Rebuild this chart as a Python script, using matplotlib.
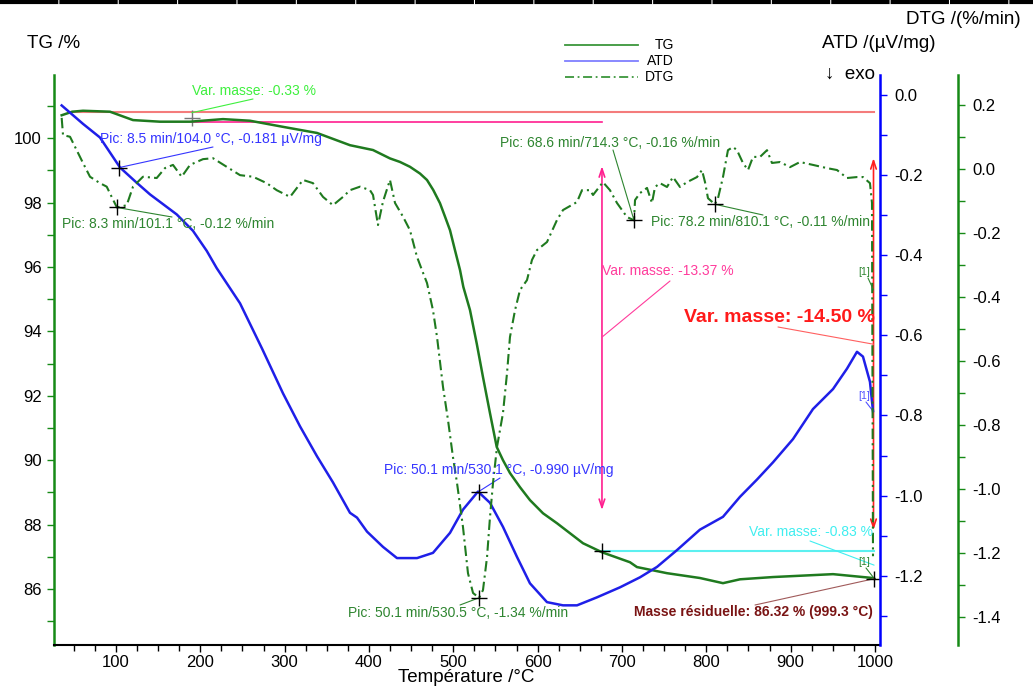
import matplotlib
matplotlib.use("Agg")
import matplotlib.pyplot as plt
from matplotlib.lines import Line2D
from matplotlib.ticker import MultipleLocator, FormatStrFormatter

# TG /% against temperature
tg_temp = [35.6, 48.0, 60.9, 92.9, 120.2, 152.2, 187.8, 226.9, 258.9, 298.1, 338.4, 377.5,
           404.8, 424.9, 436.8, 448.6, 460.5, 468.8, 476.2, 484.2, 490.2, 496.1, 502.0,
           508.0, 511.9, 519.8, 527.8, 535.2, 543.5, 551.5, 558.9, 567.2, 579.1, 590.9,
           606.4, 623.0, 638.4, 653.8, 676.3, 709.5, 717.8, 753.4, 792.5, 819.8, 840.0,
           879.1, 950.3, 997.7, 999.3]
tg_mass = [100.71, 100.82, 100.85, 100.82, 100.56, 100.51, 100.51, 100.59, 100.54, 100.35,
           100.16, 99.78, 99.63, 99.37, 99.26, 99.11, 98.90, 98.70, 98.39, 97.98, 97.56,
           97.14, 96.52, 95.90, 95.38, 94.66, 93.62, 92.58, 91.46, 90.41, 90.00, 89.60,
           89.16, 88.76, 88.35, 88.04, 87.73, 87.42, 87.14, 86.83, 86.68, 86.49, 86.34,
           86.18, 86.30, 86.37, 86.46, 86.34, 86.32]

# ATD /(uV/mg)
atd_temp = [35.6, 60.9, 81.0, 104.8, 124.6, 140.3, 172.0, 191.3, 207.6, 219.4, 247.1, 273.2,
            298.1, 318.2, 338.4, 357.3, 377.5, 385.8, 397.7, 416.6, 433.2, 457.0, 475.9,
            496.1, 511.5, 529.3, 543.5, 558.9, 575.5, 590.9, 611.1, 630.1, 646.7, 670.4,
            697.7, 721.4, 741.6, 765.3, 792.5, 819.8, 840.0, 860.1, 879.1, 902.8, 926.5,
            950.3, 966.9, 978.7, 985.8, 994.1, 997.7]
atd_signal = [-0.026, -0.072, -0.106, -0.181, -0.219, -0.248, -0.298, -0.339, -0.389, -0.432,
              -0.520, -0.633, -0.745, -0.827, -0.902, -0.967, -1.043, -1.055, -1.090, -1.128,
              -1.156, -1.156, -1.143, -1.093, -1.035, -0.990, -1.018, -1.078, -1.153, -1.219,
              -1.266, -1.274, -1.274, -1.254, -1.229, -1.204, -1.178, -1.136, -1.085, -1.053,
              -1.003, -0.960, -0.917, -0.859, -0.784, -0.734, -0.683, -0.641, -0.653, -0.716,
              -0.789]

# DTG /(%/min)
dtg_temp = [35.6, 37.2, 45.5, 53.4, 60.9, 69.2, 81.0, 89.0, 94.9, 101.1, 112.7, 120.2, 132.0,
            148.3, 158.1, 167.6, 177.9, 187.8, 203.2, 215.0, 231.3, 247.1, 262.5, 278.7,
            290.6, 306.4, 321.8, 333.6, 345.5, 357.3, 369.2, 377.5, 389.4, 401.2, 404.8,
            410.7, 416.6, 424.9, 430.9, 440.4, 448.6, 456.9, 462.9, 468.8, 475.9, 480.7,
            487.8, 493.7, 499.6, 504.4, 511.5, 517.4, 523.4, 530.5, 535.2, 540.0, 543.5,
            547.1, 551.8, 558.9, 563.7, 567.2, 573.2, 579.1, 587.4, 593.3, 599.3, 611.1,
            623.0, 630.1, 646.7, 652.6, 662.1, 665.7, 677.5, 685.8, 694.1, 706.0, 714.3,
            715.5, 721.4, 729.7, 735.6, 739.2, 745.1, 753.4, 760.5, 768.8, 777.1, 789.0,
            794.9, 798.5, 802.0, 810.1, 813.9, 819.8, 825.7, 831.7, 836.4, 843.5, 849.5,
            855.4, 863.7, 872.0, 877.9, 887.4, 899.3, 911.1, 926.5, 943.1, 955.0, 966.9,
            978.7, 985.8, 994.1, 996.5, 997.7]
dtg_rate = [0.16, 0.106, 0.101, 0.059, 0.019, -0.024, -0.044, -0.055, -0.087, -0.12, -0.113,
            -0.055, -0.024, -0.028, 0.003, 0.013, -0.024, 0.013, 0.031, 0.034, 0.007, -0.019,
            -0.024, -0.044, -0.066, -0.087, -0.034, -0.044, -0.087, -0.113, -0.087, -0.066,
            -0.055, -0.066, -0.081, -0.175, -0.102, -0.034, -0.106, -0.149, -0.191, -0.274,
            -0.316, -0.356, -0.441, -0.525, -0.681, -0.784, -0.900, -0.981, -1.119, -1.263,
            -1.325, -1.34, -1.316, -1.213, -1.088, -0.981, -0.869, -0.763, -0.638, -0.525,
            -0.441, -0.378, -0.347, -0.284, -0.253, -0.228, -0.159, -0.128, -0.103, -0.066,
            -0.066, -0.081, -0.041, -0.066, -0.106, -0.150, -0.16, -0.097, -0.075, -0.059,
            -0.106, -0.056, -0.044, -0.056, -0.025, -0.056, -0.041, -0.025, -0.003, -0.041,
            -0.091, -0.11, -0.091, -0.025, 0.059, 0.069, 0.059, 0.019, -0.003, 0.038, 0.038,
            0.059, 0.019, 0.022, 0.006, 0.022, 0.013, 0.003, -0.003, -0.028, -0.025, -0.025,
            -0.044, -0.106, -1.21]

# peaks and mass steps given in the annotations
atd_peak_temp = [104.0, 530.1]
atd_peak_val = [-0.181, -0.990]
dtg_peak_temp = [101.1, 530.5, 714.3, 810.1]
dtg_peak_val = [-0.12, -1.34, -0.16, -0.11]
mass_ref = 100.81
step1_temp, step1_mass = 190.0, 100.50
step2_temp, step2_mass = 676.3, 87.17
resid_temp, resid_mass = 999.3, 86.32

W, H = 1033, 688


def fp(x, y):
    return (x / W, 1 - y / H)


plt.rcParams['font.family'] = ['Liberation Sans', 'DejaVu Sans']
plt.rcParams['axes.unicode_minus'] = False

GREEN = '#1f7a1f'
GREEN_AX = '#168a16'
BLUE = '#1f1fe8'
PINK = '#ff1f8f'

fig = plt.figure(figsize=(W / 100, H / 100), dpi=100)
ax = fig.add_axes([54 / W, 1 - 645 / H, 826 / W, 570 / H])
ax_atd = ax.twinx()
ax_dtg = ax.twinx()

ax.plot(tg_temp, tg_mass, color=GREEN, lw=1.8, zorder=3, solid_joinstyle='round')
ax_atd.plot(atd_temp, atd_signal, color=BLUE, lw=1.8, solid_joinstyle='round')
ax_dtg.plot(dtg_temp, dtg_rate, color=GREEN, lw=1.5, linestyle=(0, (5, 2, 1, 2)))

ax.set_xlim(26.5, 1006)
ax.set_ylim(84.26, 101.96)
ax_atd.set_ylim(-1.373, 0.05)
ax_dtg.set_ylim(-1.4875, 0.294)

# mass change construction
ax.plot([49, 998.5], [mass_ref, mass_ref], color='#f47c7c', lw=1.5)
ax.plot([step1_temp, step2_temp], [step1_mass, step1_mass], color=PINK, lw=1.2)
ax.plot([step2_temp, 999], [step2_mass, step2_mass], color='#5cf0f0', lw=1.5)
ax.annotate('', xy=(step2_temp, 88.45), xytext=(step2_temp, 99.13),
            arrowprops=dict(arrowstyle='<->,head_length=0.6,head_width=0.2', color=PINK,
                            lw=1.2, shrinkA=0, shrinkB=0))
ax.annotate('', xy=(998.3, 87.83), xytext=(998.3, 99.38),
            arrowprops=dict(arrowstyle='<->,head_length=0.6,head_width=0.2', color='#ff2020',
                            lw=1.2, shrinkA=0, shrinkB=0))

mk = dict(marker='+', color='black', ms=11, mew=1, ls='none', zorder=5)
ax.plot([step1_temp], [step1_mass + 0.12], marker='+', color='#777777', ms=11, mew=1, ls='none')
ax.plot([step2_temp, resid_temp], [step2_mass, resid_mass], **mk)
ax_atd.plot(atd_peak_temp, atd_peak_val, **mk)
ax_dtg.plot(dtg_peak_temp, dtg_peak_val, **mk)

# spines
for s in ['top', 'right']:
    ax.spines[s].set_visible(False)
ax.spines['left'].set_color(GREEN_AX)
ax.spines['left'].set_linewidth(1.8)
ax.spines['bottom'].set_linewidth(1.5)
for a, col in [(ax_atd, '#0000ff'), (ax_dtg, GREEN_AX)]:
    for s in ['top', 'left', 'bottom']:
        a.spines[s].set_visible(False)
    a.spines['right'].set_color(col)
    a.spines['right'].set_linewidth(1.8)
ax_dtg.spines['right'].set_position(('axes', 1 + 78 / 826))

ax.xaxis.set_minor_locator(MultipleLocator(25))
ax.set_xticks(range(100, 1001, 100))
ax.yaxis.set_minor_locator(MultipleLocator(1))
ax.set_yticks(range(86, 101, 2))
for a in [ax_atd, ax_dtg]:
    a.yaxis.set_minor_locator(MultipleLocator(0.1))
    a.yaxis.set_major_formatter(FormatStrFormatter('%.1f'))
ax_atd.set_yticks([0.0, -0.2, -0.4, -0.6, -0.8, -1.0, -1.2])
ax_dtg.set_yticks([0.2, 0.0, -0.2, -0.4, -0.6, -0.8, -1.0, -1.2, -1.4])

ax.tick_params(axis='x', which='both', direction='out', length=5, width=1, labelsize=12, pad=2)
ax.tick_params(axis='x', which='minor', length=4)
ax.tick_params(axis='y', which='both', direction='out', length=5, width=1, color=GREEN_AX,
               labelsize=12, pad=4)
ax_atd.tick_params(axis='y', which='both', direction='out', length=5, width=1, color='#0000ff',
                   labelsize=12, pad=5)
ax_dtg.tick_params(axis='y', which='both', direction='out', length=5, width=1, color=GREEN_AX,
                   labelsize=12, pad=5)

# axis titles
fig.text(*fp(27, 43), 'TG /%', fontsize=13.5, ha='left', va='center')
fig.text(*fp(1021, 20), 'DTG /(%/min)', fontsize=13.5, ha='right', va='center')
fig.text(*fp(822, 44), 'ATD /(µV/mg)', fontsize=13.5, ha='left', va='center')
fig.text(*fp(825, 74), '↓  exo', fontsize=13.5, ha='left', va='center')
fig.text(*fp(466, 677), 'Température /°C', fontsize=13.5, ha='center', va='center')

# legend
legend_rows = [('TG', '#3c963c', '-', 45), ('ATD', '#7f7fff', '-', 61),
               ('DTG', '#3c963c', (0, (5, 2, 1, 2)), 77)]
for name, col, ls, yy in legend_rows:
    x0, y0 = fp(565, yy)
    x1, _ = fp(638, yy)
    fig.add_artist(Line2D([x0, x1], [y0, y0], color=col, lw=1.3, linestyle=ls))
    fig.text(*fp(674, yy), name, fontsize=10, ha='right', va='center')

# top border
fig.add_artist(Line2D([0, 1], [1 - 1.5 / H] * 2, color='black', lw=3, linestyle=(0, (14, 0.25))))


def note(axis, text, tx, ty, lx, ly, xy, color, ha='left', size=10, weight='normal',
         lcolor=None):
    fig.text(*fp(tx, ty), text, color=color, fontsize=size, ha=ha, va='center',
             fontweight=weight)
    axis.annotate('', xy=xy, xytext=fp(lx, ly), textcoords='figure fraction',
                  arrowprops=dict(arrowstyle='-', color=lcolor or color, lw=0.8,
                                  shrinkA=0, shrinkB=0))


TXT_GREEN = '#2e8530'
note(ax, 'Var. masse: -0.33 %', 192, 91, 253, 99, (step1_temp, mass_ref - 0.02), '#3ef03e')
note(ax_atd, 'Pic: 8.5 min/104.0 °C, -0.181 µV/mg', 100, 139, 213, 147,
     (atd_peak_temp[0], atd_peak_val[0]), '#3535ff')
note(ax_dtg, 'Pic: 8.3 min/101.1 °C, -0.12 %/min', 62, 224, 172, 217,
     (dtg_peak_temp[0], dtg_peak_val[0]), TXT_GREEN)
note(ax_dtg, 'Pic: 68.6 min/714.3 °C, -0.16 %/min', 500, 143, 613, 150,
     (dtg_peak_temp[2], dtg_peak_val[2]), TXT_GREEN)
note(ax_dtg, 'Pic: 78.2 min/810.1 °C, -0.11 %/min', 651, 222, 763, 215,
     (dtg_peak_temp[3], dtg_peak_val[3]), TXT_GREEN)
note(ax, 'Var. masse: -13.37 %', 602, 271, 670, 281, (step2_temp, 93.82), '#ff3c9c')
note(ax, 'Var. masse: -14.50 %', 875, 317, 778, 327, (998.3, 93.6), '#ff1a1a', ha='right',
     size=14, weight='bold', lcolor='#ff6060')
note(ax_atd, 'Pic: 50.1 min/530.1 °C, -0.990 µV/mg', 384, 470, 500, 478,
     (atd_peak_temp[1], atd_peak_val[1]), '#3535ff')
note(ax_dtg, 'Pic: 50.1 min/530.5 °C, -1.34 %/min', 348, 613, 460, 605,
     (dtg_peak_temp[1], dtg_peak_val[1]), TXT_GREEN)
note(ax, 'Var. masse: -0.83 %', 873, 532, 810, 541, (999, 86.74), '#40eef0', ha='right')
note(ax, 'Masse résiduelle: 86.32 % (999.3 °C)', 873, 612, 755, 605, (resid_temp, resid_mass),
     '#7a1414', ha='right', weight='bold', lcolor='#a05a5a')
note(ax_dtg, '[1]', 858, 272, 868, 278, (998.3, -0.378), TXT_GREEN, size=7.5)
note(ax_atd, '[1]', 858, 396, 866, 402, (atd_temp[-1], atd_signal[-1]), '#5050ff', size=7.5)
note(ax, '[1]', 858, 562, 866, 568, (resid_temp, resid_mass), TXT_GREEN, size=7.5)

fig.savefig('out.png', dpi=100)
